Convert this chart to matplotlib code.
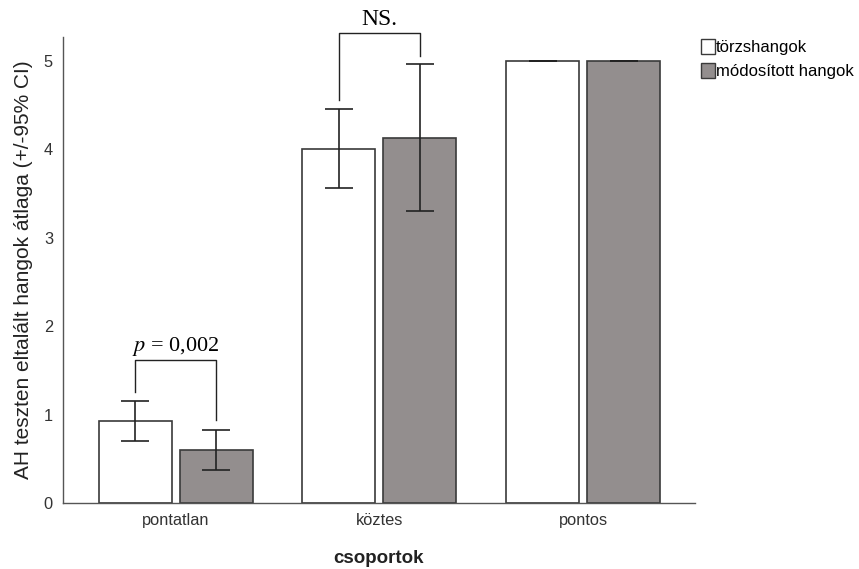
import matplotlib.pyplot as plt
import numpy as np
from matplotlib.patches import Patch

plt.rcParams['font.family'] = ['Liberation Sans', 'DejaVu Sans']
plt.rcParams['mathtext.fontset'] = 'stix'

# group names and series
groups = ['pontatlan', 'köztes', 'pontos']
series = ['törzshangok', 'módosított hangok']
means_torzs = [0.93, 4.00, 5.00]
ci_lo_torzs = [0.70, 3.56, 5.00]
ci_hi_torzs = [1.15, 4.46, 5.00]
means_mod = [0.60, 4.13, 5.00]
ci_lo_mod = [0.37, 3.30, 5.00]
ci_hi_mod = [0.83, 4.97, 5.00]

colors = ['white', '#938e8e']
edge = '#3a3a3a'

fig = plt.figure(figsize=(8.59, 5.69), dpi=100)
ax = fig.add_axes([0.073, 0.116, 0.736, 0.819])

x = np.arange(len(groups))
w = 0.358
off = 0.199

for i, (m, lo, hi) in enumerate([(means_torzs, ci_lo_torzs, ci_hi_torzs),
                                 (means_mod, ci_lo_mod, ci_hi_mod)]):
    xs = x + (-off if i == 0 else off)
    m = np.array(m)
    err = [m - np.array(lo), np.array(hi) - m]
    ax.bar(xs, m, width=w, color=colors[i], edgecolor=edge, linewidth=1.2, zorder=2)
    ax.errorbar(xs, m, yerr=err, fmt='none', ecolor='#222222', elinewidth=1.2,
                capsize=10, capthick=1.2, zorder=3)

# significance brackets
def bracket(x1, x2, y_left, y_right, top, label, ty, fs):
    ax.plot([x1, x1, x2, x2], [y_left, top, top, y_right], color='#222222',
            lw=1, clip_on=False, zorder=4)
    ax.text((x1 + x2) / 2, ty, label, ha='center', va='center', fontsize=fs,
            family='Liberation Serif', clip_on=False)

bracket(x[0] - off, x[0] + off, 1.26, 0.94, 1.62, r'$p$ = 0,002', 1.77, 16)
bracket(x[1] - off, x[1] + off, 4.56, 5.05, 5.32, 'NS.', 5.47, 17)

ax.set_xlim(-0.554, 2.549)
ax.set_ylim(0, 5.27)
ax.set_yticks([0, 1, 2, 3, 4, 5])
ax.set_xticks(x)
ax.set_xticklabels(groups)
ax.tick_params(axis='both', length=0, labelsize=11.8, colors='#333333', pad=7)
for s in ['top', 'right']:
    ax.spines[s].set_visible(False)
for s in ['left', 'bottom']:
    ax.spines[s].set_color('#555555')
    ax.spines[s].set_linewidth(1)

ax.set_xlabel('csoportok', fontsize=13.5, fontweight='bold', labelpad=16, color='#222222')
ax.set_ylabel('AH teszten eltalált hangok átlaga (+/-95% CI)', fontsize=15,
              color='#222222', labelpad=8)

handles = [Patch(facecolor=colors[k], edgecolor=edge, label=series[k]) for k in range(2)]
fig.legend(handles=handles, loc='upper left', bbox_to_anchor=(0.808, 0.943),
           frameon=False, fontsize=12, handlelength=0.85, handleheight=1.0,
           handletextpad=0.08, labelspacing=0.45, borderaxespad=0)

fig.savefig('out.png', dpi=100)
